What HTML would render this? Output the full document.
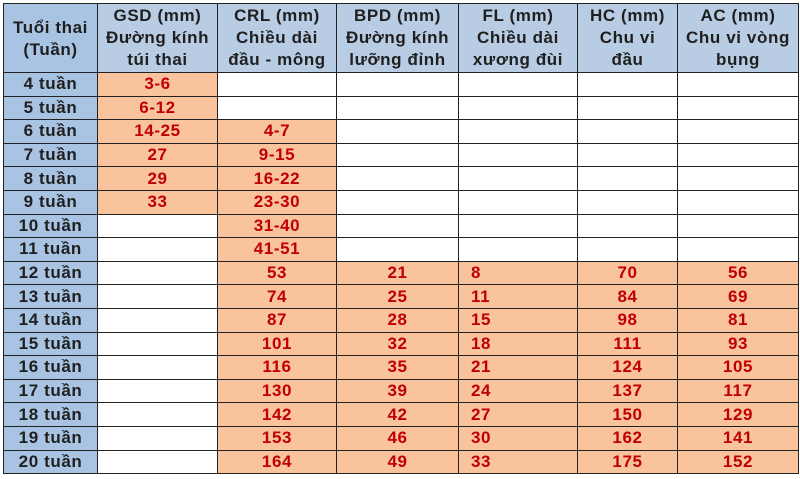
<!DOCTYPE html>
<html><head><meta charset="utf-8"><style>
body{margin:0;width:800px;height:479px;background:#fff;overflow:hidden;font-family:"Liberation Sans",sans-serif;}
table{position:absolute;left:3px;top:3px;border-collapse:collapse;table-layout:fixed;}
td{border:1px solid #222;padding:0;text-align:center;font-weight:bold;font-size:17px;letter-spacing:0.6px;height:22.6px;line-height:18px;color:#c00000;overflow:hidden;white-space:nowrap}
tr.h td{height:67px;background:#b8cce4;color:#1f1f1f;font-size:17px;line-height:22px;vertical-align:top;padding-top:1px}
td.a{background:#a9c3e3;color:#1f1f1f;}
td.o{background:#f9c49b;}
td.l{text-align:left;padding-left:12px}
</style></head><body>
<table>
<colgroup><col style="width:94px"><col style="width:120px"><col style="width:119px"><col style="width:122px"><col style="width:119px"><col style="width:100px"><col style="width:121px"></colgroup>
<tr class="h"><td style="vertical-align:middle;background:#a9c3e3">Tuổi thai<br>(Tuần)</td><td>GSD (mm)<br>Đường kính<br>túi thai</td><td>CRL (mm)<br>Chiều dài<br>đầu - mông</td><td>BPD (mm)<br>Đường kính<br>lưỡng đỉnh</td><td>FL (mm)<br>Chiều dài<br>xương đùi</td><td>HC (mm)<br>Chu vi<br>đầu</td><td>AC (mm)<br>Chu vi vòng<br>bụng</td></tr>
<tr><td class="a">4 tuần</td><td class="o">3-6</td><td></td><td></td><td></td><td></td><td></td></tr>
<tr><td class="a">5 tuần</td><td class="o">6-12</td><td></td><td></td><td></td><td></td><td></td></tr>
<tr><td class="a">6 tuần</td><td class="o">14-25</td><td class="o">4-7</td><td></td><td></td><td></td><td></td></tr>
<tr><td class="a">7 tuần</td><td class="o">27</td><td class="o">9-15</td><td></td><td></td><td></td><td></td></tr>
<tr><td class="a">8 tuần</td><td class="o">29</td><td class="o">16-22</td><td></td><td></td><td></td><td></td></tr>
<tr><td class="a">9 tuần</td><td class="o">33</td><td class="o">23-30</td><td></td><td></td><td></td><td></td></tr>
<tr><td class="a">10 tuần</td><td></td><td class="o">31-40</td><td></td><td></td><td></td><td></td></tr>
<tr><td class="a">11 tuần</td><td></td><td class="o">41-51</td><td></td><td></td><td></td><td></td></tr>
<tr><td class="a">12 tuần</td><td></td><td class="o">53</td><td class="o">21</td><td class="o l">8</td><td class="o">70</td><td class="o">56</td></tr>
<tr><td class="a">13 tuần</td><td></td><td class="o">74</td><td class="o">25</td><td class="o l">11</td><td class="o">84</td><td class="o">69</td></tr>
<tr><td class="a">14 tuần</td><td></td><td class="o">87</td><td class="o">28</td><td class="o l">15</td><td class="o">98</td><td class="o">81</td></tr>
<tr><td class="a">15 tuần</td><td></td><td class="o">101</td><td class="o">32</td><td class="o l">18</td><td class="o">111</td><td class="o">93</td></tr>
<tr><td class="a">16 tuần</td><td></td><td class="o">116</td><td class="o">35</td><td class="o l">21</td><td class="o">124</td><td class="o">105</td></tr>
<tr><td class="a">17 tuần</td><td></td><td class="o">130</td><td class="o">39</td><td class="o l">24</td><td class="o">137</td><td class="o">117</td></tr>
<tr><td class="a">18 tuần</td><td></td><td class="o">142</td><td class="o">42</td><td class="o l">27</td><td class="o">150</td><td class="o">129</td></tr>
<tr><td class="a">19 tuần</td><td></td><td class="o">153</td><td class="o">46</td><td class="o l">30</td><td class="o">162</td><td class="o">141</td></tr>
<tr><td class="a">20 tuần</td><td></td><td class="o">164</td><td class="o">49</td><td class="o l">33</td><td class="o">175</td><td class="o">152</td></tr>
</table>
</body></html>
